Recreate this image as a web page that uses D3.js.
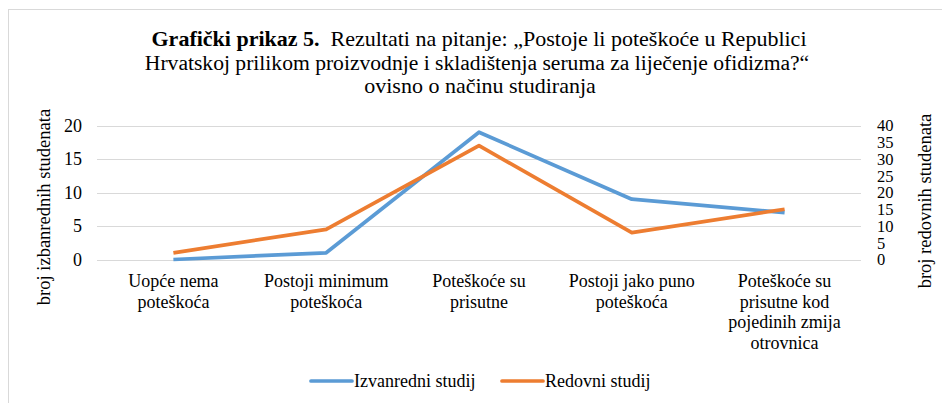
<!DOCTYPE html>
<html>
<head>
<meta charset="utf-8">
<script src="https://cdn.jsdelivr.net/npm/d3@7"></script>
<style>
  body { margin: 0; background: #fff; }
  svg { display: block; }
</style>
</head>
<body>
<svg id="chart" width="942" height="403"></svg>
<script>
const categories = [
  ["Uopće nema", "poteškoća"],
  ["Postoji minimum", "poteškoća"],
  ["Poteškoće su", "prisutne"],
  ["Postoji jako puno", "poteškoća"],
  ["Poteškoće su", "prisutne kod", "pojedinih zmija", "otrovnica"]
];
const izvanredni = [0, 1, 19, 9, 7];
const redovni = [2, 9, 34, 8, 15];
const leftTicks = [0, 5, 10, 15, 20];
const rightTicks = [0, 5, 10, 15, 20, 25, 30, 35, 40];
const seriesNames = ["Izvanredni studij", "Redovni studij"];
const colors = ["#5B9BD5", "#ED7D31"];

const FONT = '"Liberation Serif", monospace';
const svg = d3.select("#chart");

// chart border
svg.append("rect").attr("x", 8.5).attr("y", 9.5).attr("width", 960).attr("height", 420)
  .attr("fill", "none").attr("stroke", "#d9d9d9").attr("stroke-width", 1);

// title (one text element per line)
const tl1 = svg.append("text").attr("x", 479).attr("y", 46).attr("text-anchor", "middle")
  .style("font-family", FONT).style("font-size", "22px");
tl1.append("tspan").style("font-weight", "bold").text("Grafički prikaz 5.");
tl1.append("tspan").text("\u00A0 Rezultati na pitanje: „Postoje li poteškoće u Republici");
svg.append("text").attr("x", 477).attr("y", 69.5).attr("text-anchor", "middle")
  .style("font-family", FONT).style("font-size", "21.6px")
  .text("Hrvatskoj prilikom proizvodnje i skladištenja seruma za liječenje ofidizma?“");
svg.append("text").attr("x", 480).attr("y", 93).attr("text-anchor", "middle")
  .style("font-family", FONT).style("font-size", "22px")
  .text("ovisno o načinu studiranja");

const x0 = 97, x1 = 861, yTop = 125.5, yBot = 259.5;
const x = d3.scaleBand().domain(d3.range(categories.length)).range([x0, x1]);
const yL = d3.scaleLinear().domain([0, 20]).range([yBot, yTop]);
const yR = d3.scaleLinear().domain([0, 40]).range([yBot, yTop]);

// gridlines
svg.append("g").selectAll("line").data(leftTicks).join("line")
  .attr("x1", x0).attr("x2", x1)
  .attr("y1", d => Math.round(yL(d)) + 0.5).attr("y2", d => Math.round(yL(d)) + 0.5)
  .attr("stroke", "#d9d9d9").attr("stroke-width", 1);

// left axis
const axL = svg.append("g").attr("transform", `translate(${x0 - 12},0)`)
  .call(d3.axisLeft(yL).tickValues(leftTicks).tickSize(0).tickPadding(3));
axL.select(".domain").remove();
axL.attr("font-family", null).attr("font-size", null);
axL.selectAll("text").style("font-size", "18px").style("font-family", FONT).attr("fill", "#000");

// right axis
const axR = svg.append("g").attr("transform", `translate(${x1 + 13},0)`)
  .call(d3.axisRight(yR).tickValues(rightTicks).tickSize(0).tickPadding(3));
axR.select(".domain").remove();
axR.attr("font-family", null).attr("font-size", null);
axR.selectAll("text").style("font-size", "16.5px").style("font-family", FONT).attr("fill", "#000");

// axis titles
svg.append("text").attr("transform", `translate(50,207) rotate(-90)`)
  .attr("text-anchor", "middle").style("font-size", "18.5px").style("font-family", FONT).text("broj izbanrednih studenata");
svg.append("text").attr("transform", `translate(931,201) rotate(-90)`)
  .attr("text-anchor", "middle").style("font-size", "18.5px").style("font-family", FONT).text("broj redovnih studenata");

// category labels
categories.forEach((lines, i) => {
  lines.forEach((l, j) => {
    svg.append("text").attr("x", x(i) + x.bandwidth() / 2).attr("y", 287 + j * 20.7)
      .attr("text-anchor", "middle").style("font-size", "18px").style("font-family", FONT).text(l);
  });
});

// lines
const lineL = d3.line().x((d, i) => x(i) + x.bandwidth() / 2).y(d => yL(d));
const lineR = d3.line().x((d, i) => x(i) + x.bandwidth() / 2).y(d => yR(d));
svg.append("path").datum(izvanredni).attr("d", lineL).attr("fill", "none")
  .attr("stroke", colors[0]).attr("stroke-width", 3.7).attr("stroke-linejoin", "round");
svg.append("path").datum(redovni).attr("d", lineR).attr("fill", "none")
  .attr("stroke", colors[1]).attr("stroke-width", 3.7).attr("stroke-linejoin", "round");

// legend
const legX = [311, 502];
seriesNames.forEach((name, i) => {
  svg.append("line").attr("x1", legX[i]).attr("x2", legX[i] + 41).attr("y1", 381).attr("y2", 381)
    .attr("stroke", colors[i]).attr("stroke-width", 3.7).attr("stroke-linecap", "round");
  svg.append("text").attr("x", legX[i] + 43).attr("y", 387)
    .style("font-size", "18px").style("font-family", FONT).text(name);
});
</script>
</body>
</html>
